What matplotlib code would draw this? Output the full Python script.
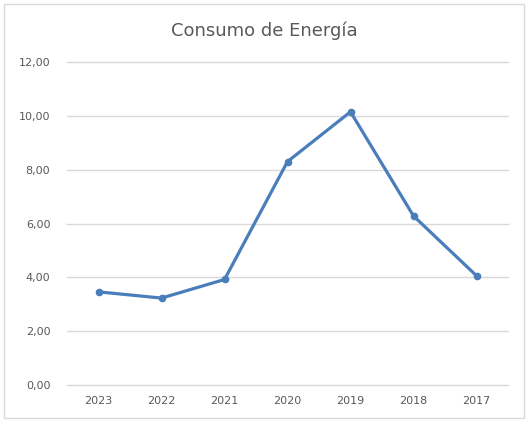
import matplotlib.pyplot as plt
from matplotlib.patches import Rectangle

years = ['2023', '2022', '2021', '2020', '2019', '2018', '2017']
consumo = [3.46, 3.23, 3.92, 8.30, 10.15, 6.28, 4.06]
yticks = [0, 2, 4, 6, 8, 10, 12]

fig = plt.figure(figsize=(5.29, 4.21), dpi=100)
fig.patches.append(Rectangle((0.008, 0.006), 0.982, 0.984, transform=fig.transFigure,
                             fill=False, edgecolor='#d9d9d9', linewidth=1))

ax = fig.add_axes([0.1267, 0.0855, 0.8336, 0.7672])
x = range(len(years))
ax.plot(x, consumo, color='#4a7ebb', linewidth=2.3, marker='o', markersize=4.5)

ax.set_xlim(-0.5, len(years) - 0.5)
ax.set_ylim(0, 12)
ax.set_xticks(list(x))
ax.set_xticklabels(years)
ax.set_yticks(yticks)
ax.set_yticklabels([f'{v:.2f}'.replace('.', ',') for v in yticks])
ax.tick_params(length=0, labelsize=8, colors='#595959', pad=8)
ax.tick_params(axis='y', pad=12)
ax.grid(axis='y', color='#d9d9d9', linewidth=1)
for gl in ax.get_ygridlines():
    gl.set_clip_on(False)
ax.set_axisbelow(True)
for s in ax.spines.values():
    s.set_visible(False)

fig.text(0.5, 0.927, 'Consumo de Energía', ha='center', va='center',
         fontsize=13, color='#595959')

fig.savefig('out.png', dpi=100)
